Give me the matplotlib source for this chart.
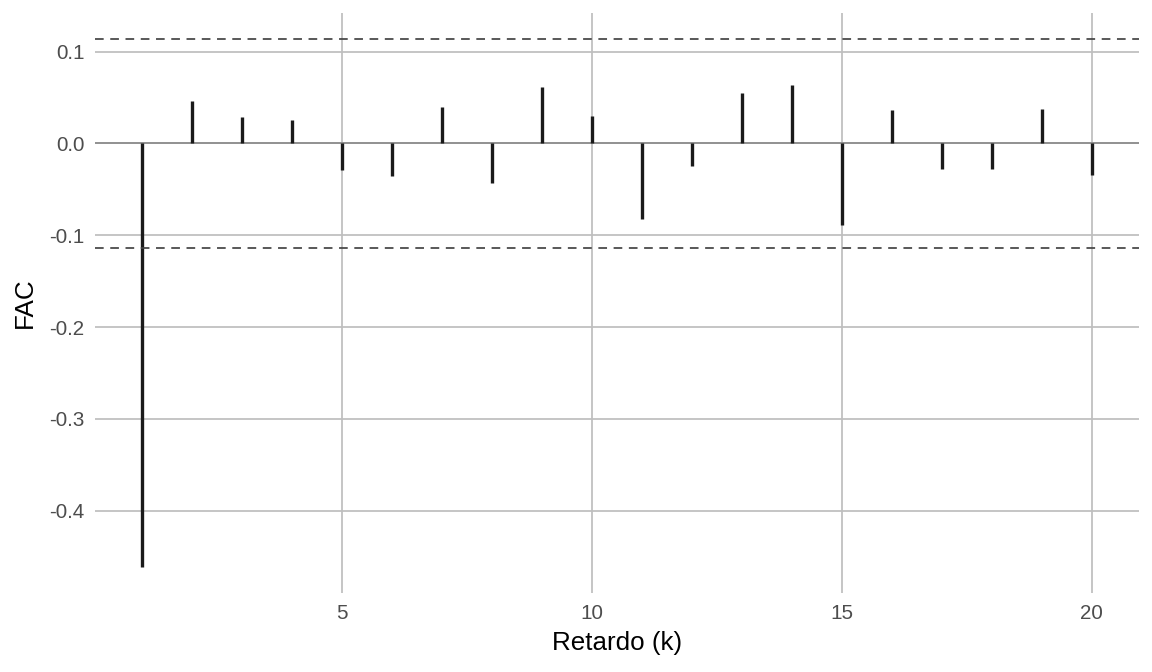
import numpy as np
import matplotlib
matplotlib.use('Agg')
import matplotlib.pyplot as plt

plt.rcParams['font.family'] = ['Liberation Sans', 'DejaVu Sans']

lags = np.arange(1, 21)
acf = [-0.461, 0.046, 0.029, 0.025, -0.029, -0.036, 0.040, -0.043, 0.061, 0.030,
       -0.082, -0.025, 0.055, 0.064, -0.089, 0.036, -0.028, -0.028, 0.038, -0.034]
conf = 0.1134

fig = plt.figure(figsize=(12, 7), dpi=96)
ax = fig.add_axes([0.0825, 0.1176, 0.9062, 0.8631])

ax.axhline(0, color='#8c8c8c', lw=1.3, zorder=2)
ax.vlines(lags, 0, acf, color='#1a1a1a', lw=2.5, zorder=3)
ax.axhline(conf, color='#444444', lw=1.3, ls=(0, (5, 3.8)), zorder=3)
ax.axhline(-conf, color='#444444', lw=1.3, ls=(0, (5, 3.8)), zorder=3)

# ggplot style 5% expansion
span = max(acf + [conf]) - min(acf + [-conf])
ax.set_xlim(1 - 0.05 * 19, 20 + 0.05 * 19)
ax.set_ylim(min(acf) - 0.05 * span, conf + 0.05 * span)

ax.set_xticks([5, 10, 15, 20])
ax.set_yticks([-0.4, -0.3, -0.2, -0.1, 0.0, 0.1])
ax.set_yticklabels(['-0.4', '-0.3', '-0.2', '-0.1', '0.0', '0.1'])
ax.grid(True, color='#bebebe', lw=1.3, zorder=0)
ax.set_axisbelow(True)
for s in ax.spines.values():
    s.set_visible(False)
ax.tick_params(length=0, labelsize=15.5, labelcolor='#4d4d4d', pad=8)

ax.set_xlabel('Retardo (k)', fontsize=19.5, labelpad=6)
ax.set_ylabel('FAC', fontsize=19.5, labelpad=9)

fig.savefig('out.png', dpi=96)
